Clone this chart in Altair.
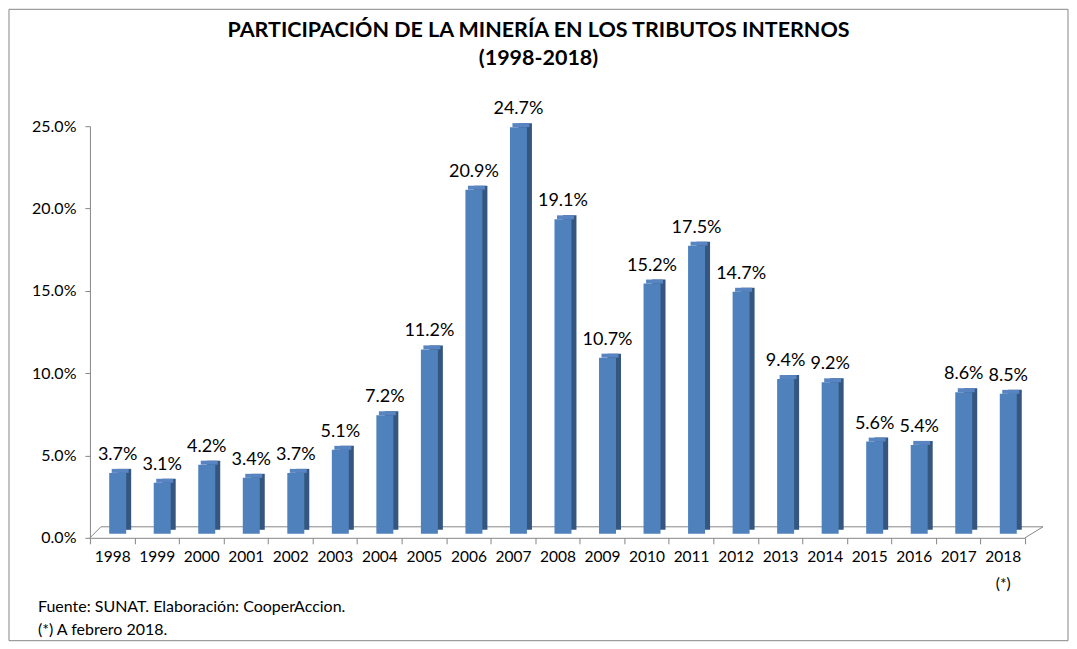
import altair as alt
import pandas as pd

years = ["1998", "1999", "2000", "2001", "2002", "2003", "2004", "2005", "2006", "2007",
         "2008", "2009", "2010", "2011", "2012", "2013", "2014", "2015", "2016", "2017", "2018"]
values = [3.7, 3.1, 4.2, 3.4, 3.7, 5.1, 7.2, 11.2, 20.9, 24.7,
          19.1, 10.7, 15.2, 17.5, 14.7, 9.4, 9.2, 5.6, 5.4, 8.6, 8.5]
value_labels = ["3.7%", "3.1%", "4.2%", "3.4%", "3.7%", "5.1%", "7.2%", "11.2%", "20.9%", "24.7%",
                "19.1%", "10.7%", "15.2%", "17.5%", "14.7%", "9.4%", "9.2%", "5.6%", "5.4%", "8.6%", "8.5%"]
y_ticks = [0, 5, 10, 15, 20, 25]
title_lines = ["PARTICIPACIÓN DE LA MINERÍA EN LOS TRIBUTOS INTERNOS", "(1998-2018)"]
notes = ["Fuente: SUNAT. Elaboración: CooperAccion.", "(*) A febrero 2018."]

df = pd.DataFrame({"year": years, "value": values, "label": value_labels})

W, H = 936, 412
FONT = "Lato"
GRAY = "#868686"
FRONT = "#4F81BD"
SIDE = "#34567F"
TOP = "#5885C2"

xenc = alt.X("year:N", sort=years,
             scale=alt.Scale(paddingInner=0, paddingOuter=0),
             axis=alt.Axis(title=None, labelAngle=0, tickBand="extent", tickSize=6,
                           tickColor=GRAY, domainColor=GRAY, labelPadding=6,
                           labelFont=FONT, labelFontSize=15.5, labelColor="black",
                           labelBaseline="top", labelLineHeight=27,
                           labelExpr="datum.value == '2018' ? ['2018', '(*)'] : datum.label"))
yenc = alt.Y("value:Q", scale=alt.Scale(domain=[0, 25], nice=False),
             axis=alt.Axis(title=None, values=y_ticks, grid=False, tickSize=5,
                           tickColor=GRAY, domainColor=GRAY, labelPadding=9,
                           labelFont=FONT, labelFontSize=16, labelColor="black",
                           labelExpr="format(datum.value, '.1f') + '%'"))

base = alt.Chart(df)

side = base.mark_bar(size=13.5, xOffset=12.25, yOffset=-8, y2Offset=-8, color=SIDE).encode(
    x=xenc, y=yenc)
front = base.mark_bar(size=17, xOffset=5.5, yOffset=-4, y2Offset=-4, color=FRONT).encode(
    x=xenc, y=yenc)
top = base.mark_tick(orient="horizontal", thickness=4, size=17, xOffset=8, yOffset=-6,
                     color=TOP, opacity=1).encode(x=xenc, y=yenc)
labels = base.mark_text(dx=5.5, dy=-17, baseline="alphabetic", font=FONT, fontSize=18,
                        color="black").encode(x=xenc, y=yenc, text="label:N")

one = pd.DataFrame({"k": [0]})
floor_back = alt.Chart(one).mark_rule(color=GRAY).encode(
    x=alt.value(11), x2=alt.value(954), y=alt.value(401), y2=alt.value(401))
floor_left = alt.Chart(one).mark_rule(color=GRAY).encode(
    x=alt.value(0), x2=alt.value(11), y=alt.value(H), y2=alt.value(401))
floor_right = alt.Chart(one).mark_rule(color=GRAY).encode(
    x=alt.value(W), x2=alt.value(954), y=alt.value(H), y2=alt.value(401))

border = alt.Chart(one).mark_rect(fill="transparent", stroke=GRAY, strokeWidth=1).encode(
    x=alt.value(-81), x2=alt.value(979), y=alt.value(-117), y2=alt.value(515))

t1 = alt.Chart(one).mark_text(font=FONT, fontSize=21.5, fontWeight="bold", color="black",
                              align="center", baseline="middle").encode(
    x=alt.value(449), y=alt.value(-95), text=alt.value(title_lines[0]))
t2 = alt.Chart(one).mark_text(font=FONT, fontSize=21.5, fontWeight="bold", color="black",
                              align="center", baseline="middle").encode(
    x=alt.value(449), y=alt.value(-67), text=alt.value(title_lines[1]))
n1 = alt.Chart(one).mark_text(font=FONT, fontSize=16, color="black",
                              align="left", baseline="middle").encode(
    x=alt.value(-52), y=alt.value(481), text=alt.value(notes[0]))
n2 = alt.Chart(one).mark_text(font=FONT, fontSize=16, color="black",
                              align="left", baseline="middle").encode(
    x=alt.value(-52), y=alt.value(504), text=alt.value(notes[1]))

chart = alt.layer(
    border, floor_back, floor_left, floor_right,
    side, front, top, labels,
    t1, t2, n1, n2,
).properties(width=W, height=H, padding=0, background="white").configure_view(stroke=None)

chart.save("out.html", embed_options={"renderer": "svg", "actions": False})
